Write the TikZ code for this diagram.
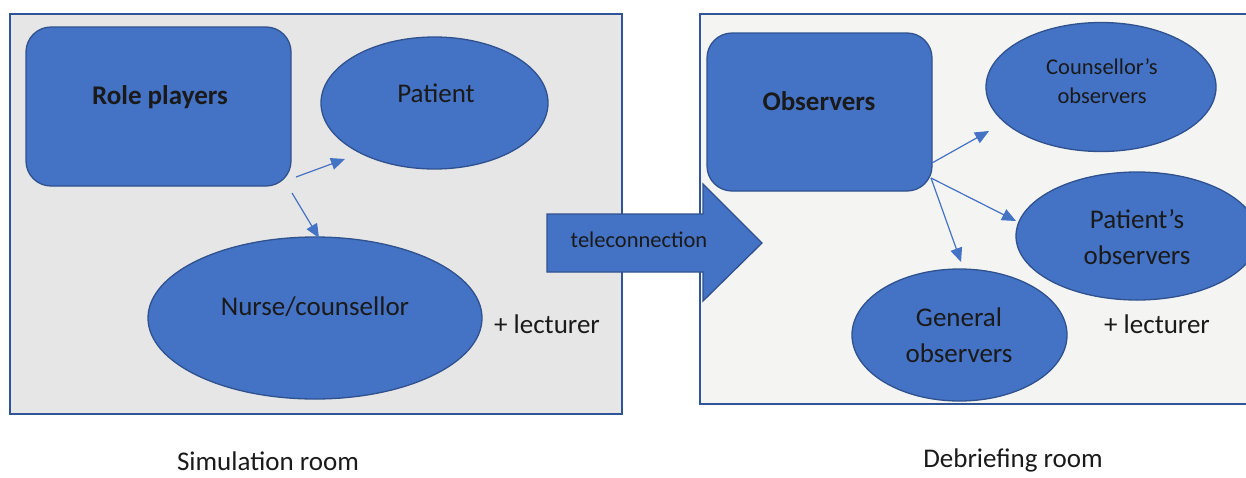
\documentclass[tikz,border=0pt]{standalone}
\usepackage{fontspec}
\setmainfont{Carlito}
\usetikzlibrary{shapes.geometric,arrows.meta}
\definecolor{nodeblue}{HTML}{4472C4}
\definecolor{nodeedge}{HTML}{2F528F}
\definecolor{roomedge}{HTML}{2F5597}
\definecolor{roomA}{HTML}{E7E6E6}
\definecolor{roomB}{HTML}{F4F4F2}
\definecolor{ink}{HTML}{1A1A1A}
\tikzset{
  room/.style={draw=roomedge, line width=2pt},
  blob/.style={draw=nodeedge, fill=nodeblue, line width=1.3pt},
  ebox/.style={blob, rounded corners=25pt, inner sep=0pt},
  ell/.style={blob, ellipse, inner sep=0pt},
  lbl/.style={text=ink, font=\fontsize{27}{32}\selectfont, anchor=base, inner sep=0pt},
  lblb/.style={lbl, font=\fontsize{27}{32}\selectfont\bfseries},
  lbls/.style={lbl, font=\fontsize{22.5}{27}\selectfont},
  conn/.style={draw=nodeblue, line width=1.2pt, -{Triangle[length=14pt,width=12pt]}}
}
\begin{document}
\begin{tikzpicture}[x=1pt,y=-1pt]
\useasboundingbox (0,0) rectangle (1246,477);
\fill[white] (0,0) rectangle (1246,477);
% rooms
\draw[room, fill=roomA] (10,14) rectangle (622,414);
\draw[room, fill=roomB] (700,14) rectangle (1262,404);
% teleconnection arrow
\draw[blob] (547,214) -- (703,214) -- (703,184) -- (762,243) -- (703,301) -- (703,272) -- (547,272) -- cycle;
\node[lbls] (tc) at (639,247) {teleconnection};
% simulation room
\node[ebox, minimum width=265pt, minimum height=159pt] (rp) at (158.5,106.5) {};
\node[lblb] (rpt) at (160,104) {Role players};
\node[ell, minimum width=227pt, minimum height=132pt] (pat) at (434.5,103) {};
\node[lbl] (patt) at (436,102) {Patient};
\node[ell, minimum width=334pt, minimum height=162pt] (nur) at (315,318) {};
\node[lbl] (nurt) at (315,315) {Nurse/counsellor};
\node[lbl] (lec1) at (547,333) {+ lecturer};
\coordinate (a1s) at (296,177);
\coordinate (a1e) at (345,159);
\coordinate (a2s) at (292,193);
\coordinate (a2e) at (319,238);
\draw[conn] (a1s) -- (a1e);
\draw[conn] (a2s) -- (a2e);
% debriefing room
\node[ebox, minimum width=225pt, minimum height=158pt] (obs) at (819.5,112) {};
\node[lblb] (obst) at (819,110) {Observers};
\node[ell, minimum width=230pt, minimum height=129pt] (cob) at (1101,87) {};
\node[lbls] (cobt1) at (1102,74) {Counsellor’s};
\node[lbls] (cobt2) at (1102,103) {observers};
\node[ell, minimum width=242pt, minimum height=128pt] (pob) at (1137,236) {};
\node[lbl] (pobt1) at (1137,228) {Patient’s};
\node[lbl] (pobt2) at (1137,264) {observers};
\node[ell, minimum width=215pt, minimum height=132pt] (gob) at (959.5,335) {};
\node[lbl] (gobt1) at (959,326) {General};
\node[lbl] (gobt2) at (959,362) {observers};
\node[lbl] (lec2) at (1157,333) {+ lecturer};
\coordinate (b0) at (932,163);
\coordinate (b1) at (989,131);
\coordinate (c0) at (931,178);
\coordinate (c1) at (1016,221);
\coordinate (c2) at (961,262);
\draw[conn] (b0) -- (b1);
\draw[conn] (c0) -- (c1);
\draw[conn] (c0) -- (c2);
% captions
\node[lbl] (simr) at (268,470) {Simulation room};
\node[lbl] (debr) at (1013,467) {Debriefing room};
\end{tikzpicture}
\end{document}
